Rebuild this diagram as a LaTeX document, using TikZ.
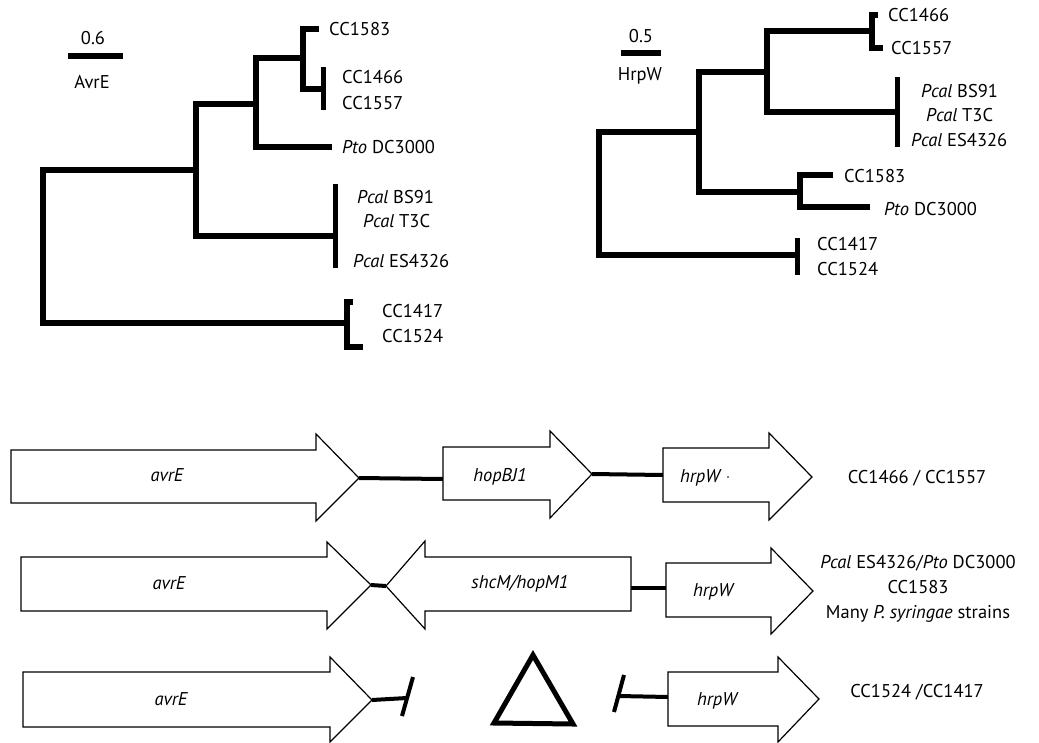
\documentclass[tikz,border=0pt]{standalone}
\usepackage{fontspec}
\setmainfont{PT Sans}
\begin{document}
\begin{tikzpicture}[x=1pt,y=-1pt,
  tree/.style={line width=6pt, line join=miter, line cap=butt},
  gene/.style={draw, line width=1.2pt, line join=miter, fill=white},
  link/.style={line width=4pt},
  lab/.style={font=\fontsize{18.5}{22}\selectfont, inner sep=0pt},
  leaf/.style={lab, anchor=west},
  gname/.style={lab, anchor=base, font=\fontsize{18.5}{22}\selectfont\itshape},
  strain/.style={lab, anchor=base}]
\useasboundingbox (0,0) rectangle (1039,742);

% ---------------- AvrE tree ----------------
\coordinate (sa1) at (68,56); \coordinate (sa2) at (123,56);
\draw[tree] (sa1) -- (sa2);
\node[lab] (avrEscale) at (93,38) {0.6};
\node[lab] (avrEname) at (92,82) {AvrE};

\coordinate (aR) at (43,170);
\draw[tree] (196,170) -- (aR) -- (43,323) -- (347,323);
\draw[tree] (256,104) -- (196,104) -- (196,236) -- (334,236);
\draw[tree] (303,58) -- (256,58) -- (256,147) -- (332,147);
\draw[tree] (319,29) -- (303,29) -- (303,89) -- (323,89);
\draw[line width=5pt] (323,67) -- (323,110);
\draw[line width=5pt] (335,184) -- (335,268);
\draw[tree] (353,302) -- (347,302) -- (347,347) -- (363,347);

\node[leaf] (a1583) at (329,29) {CC1583};
\node[leaf] (a1466) at (342,77) {CC1466};
\node[leaf] (a1557) at (342,103) {CC1557};
\node[leaf] (apto) at (342,147) {\textit{Pto} DC3000};
\node[leaf] (abs91) at (357,197) {\textit{Pcal} BS91};
\node[leaf] (at3c) at (363,221) {\textit{Pcal} T3C};
\node[leaf] (aes) at (353,261) {\textit{Pcal} ES4326};
\node[leaf] (a1417) at (382,311) {CC1417};
\node[leaf] (a1524) at (382,336) {CC1524};

% ---------------- HrpW tree ----------------
\coordinate (sh1) at (621,53); \coordinate (sh2) at (661,53);
\draw[tree] (sh1) -- (sh2);
\node[lab] (hrpWscale) at (641,36) {0.5};
\node[lab] (hrpWname) at (640,76) {HrpW};

\draw[tree] (699,132) -- (599,132) -- (599,255) -- (797,255);
\draw[tree] (767,72) -- (699,72) -- (699,192) -- (800,192);
\draw[tree] (872,31) -- (767,31) -- (767,112) -- (897,112);
\draw[tree] (878,15) -- (872,15) -- (872,48) -- (883,48);
\draw[line width=5pt] (897,77) -- (897,147);
\draw[tree] (833,175) -- (800,175) -- (800,207) -- (870,207);
\draw[line width=5pt] (797,238) -- (797,275);

\node[leaf] (h1466) at (888,15) {CC1466};
\node[leaf] (h1557) at (891,48) {CC1557};
\node[leaf] (hbs91) at (921,91) {\textit{Pcal} BS91};
\node[leaf] (ht3c) at (926,115) {\textit{Pcal} T3C};
\node[leaf] (hes) at (911,140) {\textit{Pcal} ES4326};
\node[leaf] (h1583) at (844,176) {CC1583};
\node[leaf] (hpto) at (884,209) {\textit{Pto} DC3000};
\node[leaf] (h1417) at (817,244) {CC1417};
\node[leaf] (h1524) at (817,269) {CC1524};

% ---------------- gene row 1 ----------------
\coordinate (r1a) at (359,478);
\coordinate (r1b) at (443,479);
\coordinate (r1c) at (592,474);
\coordinate (r1d) at (663,475);
\draw[link] (r1a) -- (r1b);
\draw[link] (r1c) -- (r1d);
\draw[gene] (11,450) -- (316,450) -- (316,434) -- (r1a) -- (316,521) -- (316,503) -- (11,503) -- cycle;
\draw[gene] (443,447) -- (550,447) -- (550,431) -- (r1c) -- (550,518) -- (550,500) -- (443,500) -- cycle;
\draw[gene] (663,448) -- (769,448) -- (769,433) -- (812,477) -- (769,520) -- (769,502) -- (663,502) -- cycle;
\node[gname] (g1a) at (167,481) {avrE};
\node[gname] (g1b) at (500,481) {hopBJ1};
\node[gname] (g1c) at (700,482) {hrpW};
\fill (728,477) circle (0.8);
\node[strain] (s1) at (917,483) {CC1466 / CC1557};

% ---------------- gene row 2 ----------------
\coordinate (r2a) at (371,585);
\coordinate (r2b) at (386,586);
\coordinate (r2c) at (631,588);
\coordinate (r2d) at (666,588);
\draw[link] (r2a) -- (r2b);
\draw[link] (r2c) -- (r2d);
\draw[gene] (21,557) -- (327,557) -- (327,542) -- (r2a) -- (327,629) -- (327,611) -- (21,611) -- cycle;
\draw[gene] (631,557) -- (425,557) -- (425,541) -- (r2b) -- (425,629) -- (425,611) -- (631,611) -- cycle;
\draw[gene] (666,563) -- (771,563) -- (771,548) -- (813,591) -- (771,634) -- (771,617) -- (666,617) -- cycle;
\node[gname] (g2a) at (169,589) {avrE};
\node[gname] (g2b) at (520,588) {shcM/hopM1};
\node[gname] (g2c) at (713,596) {hrpW};
\node[strain] (s2a) at (918,568) {\textit{Pcal} ES4326/\textit{Pto} DC3000};
\node[strain] (s2b) at (918,593) {CC1583};
\node[strain] (s2c) at (918,618) {Many \textit{P. syringae} strains};

% ---------------- gene row 3 ----------------
\coordinate (r3a) at (372,700);
\coordinate (r3b) at (407,698);
\coordinate (r3c) at (619,696);
\coordinate (r3d) at (668,697);
\coordinate (b1t) at (413,677); \coordinate (b1b) at (402,716);
\coordinate (b2t) at (624,675); \coordinate (b2b) at (614,712);
\draw[link] (r3a) -- (r3b);
\draw[link] (b1t) -- (b1b);
\draw[link] (r3c) -- (r3d);
\draw[link] (b2t) -- (b2b);
\draw[gene] (23,672) -- (330,672) -- (330,657) -- (r3a) -- (330,742) -- (330,727) -- (23,727) -- cycle;
\draw[gene] (668,672) -- (778,672) -- (778,657) -- (819,699) -- (778,742) -- (778,726) -- (668,726) -- cycle;
\coordinate (t1) at (494,723); \coordinate (t2) at (533,655); \coordinate (t3) at (573,724);
\draw[line width=5pt, line join=miter] (t1) -- (t2) -- (t3) -- cycle;
\node[gname] (g3a) at (171,705) {avrE};
\node[gname] (g3c) at (717,705) {hrpW};
\node[strain] (s3) at (917,697) {CC1524 /CC1417};
\end{tikzpicture}
\end{document}
